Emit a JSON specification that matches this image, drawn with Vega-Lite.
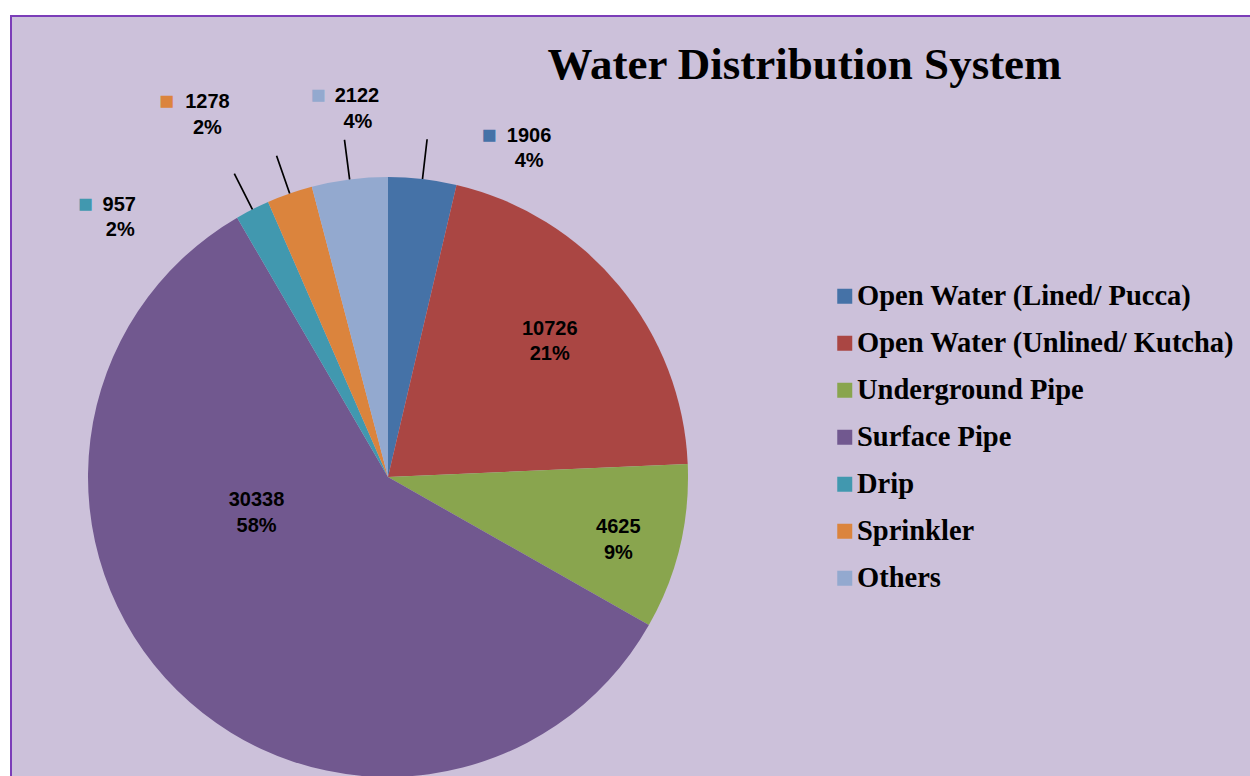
{
  "$schema": "https://vega.github.io/schema/vega-lite/v6.json",
  "width": 1239,
  "height": 760,
  "autosize": {"type": "none"},
  "padding": {"left": 11, "top": 16, "right": 0, "bottom": 0},
  "background": "white",
  "view": {"fill": "#CCC1DA", "stroke": "#7B3DB8", "strokeWidth": 2, "strokeDash": [1239, 1999, 760]},
  "title": {
    "text": "Water Distribution System",
    "orient": "top",
    "anchor": "middle",
    "frame": "group",
    "font": "Liberation Serif",
    "fontWeight": "bold",
    "fontSize": 45,
    "color": "black",
    "baseline": "alphabetic",
    "offset": -63,
    "dx": 174,
    "dy": 45
  },
  "data": {
    "values": [
      {"idx": 1, "system": "Open Water (Lined/ Pucca)", "value": 1906, "pct": "4%"},
      {"idx": 2, "system": "Open Water (Unlined/ Kutcha)", "value": 10726, "pct": "21%"},
      {"idx": 3, "system": "Underground Pipe", "value": 4625, "pct": "9%"},
      {"idx": 4, "system": "Surface Pipe", "value": 30338, "pct": "58%"},
      {"idx": 5, "system": "Drip", "value": 957, "pct": "2%"},
      {"idx": 6, "system": "Sprinkler", "value": 1278, "pct": "2%"},
      {"idx": 7, "system": "Others", "value": 2122, "pct": "4%"}
    ]
  },
  "encoding": {
    "theta": {"field": "value", "type": "quantitative", "stack": true},
    "order": {"field": "idx", "type": "quantitative"}
  },
  "layer": [
    {
      "mark": {"type": "arc", "x": 377, "y": 461, "outerRadius": 300, "stroke": null},
      "encoding": {
        "color": {
          "field": "system",
          "type": "nominal",
          "scale": {
            "domain": ["Open Water (Lined/ Pucca)", "Open Water (Unlined/ Kutcha)", "Underground Pipe", "Surface Pipe", "Drip", "Sprinkler", "Others"],
            "range": ["#4572A7", "#AA4643", "#89A54E", "#71588F", "#4198AF", "#DB843D", "#93A9CF"]
          },
          "legend": {
            "title": null,
            "orient": "none",
            "legendX": 819.5,
            "legendY": 266,
            "symbolType": "square",
            "symbolSize": 225,
            "symbolStrokeWidth": 0,
            "symbolOpacity": 1,
            "labelFont": "Liberation Serif",
            "labelFontWeight": "bold",
            "labelFontSize": 28.5,
            "labelColor": "black",
            "labelOffset": -2,
            "labelLimit": 600,
            "rowPadding": 18,
            "padding": 0
          }
        }
      }
    },
    {
      "mark": {"type": "arc", "x": 377, "y": 461, "innerRadius": 300, "outerRadius": 340, "padAngle": 1.5, "fill": "transparent", "stroke": "black", "strokeWidth": 1.7},
      "encoding": {
        "strokeOpacity": {"condition": {"test": "datum.value < 2500", "value": 1}, "value": 0}
      }
    },
    {
      "mark": {"type": "text", "x": 377, "y": 461, "radius": 340, "dx": 102, "dy": -3, "font": "Liberation Sans", "fontWeight": "bold", "fontSize": 20, "fill": "black", "align": "center", "baseline": "middle"},
      "encoding": {"text": {"condition": {"test": "datum.idx === 1", "field": "value", "type": "nominal"}, "value": ""}}
    },
    {
      "mark": {"type": "text", "x": 377, "y": 461, "radius": 340, "dx": 102, "dy": 22, "font": "Liberation Sans", "fontWeight": "bold", "fontSize": 20, "fill": "black", "align": "center", "baseline": "middle"},
      "encoding": {"text": {"condition": {"test": "datum.idx === 1", "field": "pct", "type": "nominal"}, "value": ""}}
    },
    {
      "mark": {"type": "text", "x": 377, "y": 461, "radius": 210, "dx": 0, "dy": -14, "font": "Liberation Sans", "fontWeight": "bold", "fontSize": 20, "fill": "black", "align": "center", "baseline": "middle"},
      "encoding": {"text": {"condition": {"test": "datum.idx === 2", "field": "value", "type": "nominal"}, "value": ""}}
    },
    {
      "mark": {"type": "text", "x": 377, "y": 461, "radius": 210, "dx": 0, "dy": 11, "font": "Liberation Sans", "fontWeight": "bold", "fontSize": 20, "fill": "black", "align": "center", "baseline": "middle"},
      "encoding": {"text": {"condition": {"test": "datum.idx === 2", "field": "pct", "type": "nominal"}, "value": ""}}
    },
    {
      "mark": {"type": "text", "x": 377, "y": 461, "radius": 238, "dx": -1, "dy": -6, "font": "Liberation Sans", "fontWeight": "bold", "fontSize": 20, "fill": "black", "align": "center", "baseline": "middle"},
      "encoding": {"text": {"condition": {"test": "datum.idx === 3", "field": "value", "type": "nominal"}, "value": ""}}
    },
    {
      "mark": {"type": "text", "x": 377, "y": 461, "radius": 238, "dx": -1, "dy": 20, "font": "Liberation Sans", "fontWeight": "bold", "fontSize": 20, "fill": "black", "align": "center", "baseline": "middle"},
      "encoding": {"text": {"condition": {"test": "datum.idx === 3", "field": "pct", "type": "nominal"}, "value": ""}}
    },
    {
      "mark": {"type": "text", "x": 377, "y": 461, "radius": 140, "dx": -33, "dy": -77, "font": "Liberation Sans", "fontWeight": "bold", "fontSize": 20, "fill": "black", "align": "center", "baseline": "middle"},
      "encoding": {"text": {"condition": {"test": "datum.idx === 4", "field": "value", "type": "nominal"}, "value": ""}}
    },
    {
      "mark": {"type": "text", "x": 377, "y": 461, "radius": 140, "dx": -33, "dy": -51, "font": "Liberation Sans", "fontWeight": "bold", "fontSize": 20, "fill": "black", "align": "center", "baseline": "middle"},
      "encoding": {"text": {"condition": {"test": "datum.idx === 4", "field": "pct", "type": "nominal"}, "value": ""}}
    },
    {
      "mark": {"type": "text", "x": 377, "y": 461, "radius": 360, "dx": -106, "dy": 49, "font": "Liberation Sans", "fontWeight": "bold", "fontSize": 20, "fill": "black", "align": "center", "baseline": "middle"},
      "encoding": {"text": {"condition": {"test": "datum.idx === 5", "field": "value", "type": "nominal"}, "value": ""}}
    },
    {
      "mark": {"type": "text", "x": 377, "y": 461, "radius": 360, "dx": -105, "dy": 74, "font": "Liberation Sans", "fontWeight": "bold", "fontSize": 20, "fill": "black", "align": "center", "baseline": "middle"},
      "encoding": {"text": {"condition": {"test": "datum.idx === 5", "field": "pct", "type": "nominal"}, "value": ""}}
    },
    {
      "mark": {"type": "text", "x": 377, "y": 461, "radius": 380, "dx": -56, "dy": -16, "font": "Liberation Sans", "fontWeight": "bold", "fontSize": 20, "fill": "black", "align": "center", "baseline": "middle"},
      "encoding": {"text": {"condition": {"test": "datum.idx === 6", "field": "value", "type": "nominal"}, "value": ""}}
    },
    {
      "mark": {"type": "text", "x": 377, "y": 461, "radius": 380, "dx": -56, "dy": 10, "font": "Liberation Sans", "fontWeight": "bold", "fontSize": 20, "fill": "black", "align": "center", "baseline": "middle"},
      "encoding": {"text": {"condition": {"test": "datum.idx === 6", "field": "pct", "type": "nominal"}, "value": ""}}
    },
    {
      "mark": {"type": "text", "x": 377, "y": 461, "radius": 360, "dx": 15, "dy": -24, "font": "Liberation Sans", "fontWeight": "bold", "fontSize": 20, "fill": "black", "align": "center", "baseline": "middle"},
      "encoding": {"text": {"condition": {"test": "datum.idx === 7", "field": "value", "type": "nominal"}, "value": ""}}
    },
    {
      "mark": {"type": "text", "x": 377, "y": 461, "radius": 360, "dx": 16, "dy": 2, "font": "Liberation Sans", "fontWeight": "bold", "fontSize": 20, "fill": "black", "align": "center", "baseline": "middle"},
      "encoding": {"text": {"condition": {"test": "datum.idx === 7", "field": "pct", "type": "nominal"}, "value": ""}}
    },
    {
      "mark": {"type": "text", "x": 377, "y": 461, "radius": 340, "dx": 62, "dy": -4, "font": "Liberation Sans", "fontSize": 25, "align": "center", "baseline": "middle"},
      "encoding": {
        "text": {"condition": {"test": "datum.idx === 1", "value": "■"}, "value": ""},
        "color": {"field": "system", "type": "nominal", "legend": null}
      }
    },
    {
      "mark": {"type": "text", "x": 377, "y": 461, "radius": 360, "dx": -140, "dy": 48, "font": "Liberation Sans", "fontSize": 25, "align": "center", "baseline": "middle"},
      "encoding": {
        "text": {"condition": {"test": "datum.idx === 5", "value": "■"}, "value": ""},
        "color": {"field": "system", "type": "nominal", "legend": null}
      }
    },
    {
      "mark": {"type": "text", "x": 377, "y": 461, "radius": 380, "dx": -97, "dy": -17, "font": "Liberation Sans", "fontSize": 25, "align": "center", "baseline": "middle"},
      "encoding": {
        "text": {"condition": {"test": "datum.idx === 6", "value": "■"}, "value": ""},
        "color": {"field": "system", "type": "nominal", "legend": null}
      }
    },
    {
      "mark": {"type": "text", "x": 377, "y": 461, "radius": 360, "dx": -24, "dy": -25, "font": "Liberation Sans", "fontSize": 25, "align": "center", "baseline": "middle"},
      "encoding": {
        "text": {"condition": {"test": "datum.idx === 7", "value": "■"}, "value": ""},
        "color": {"field": "system", "type": "nominal", "legend": null}
      }
    }
  ]
}
